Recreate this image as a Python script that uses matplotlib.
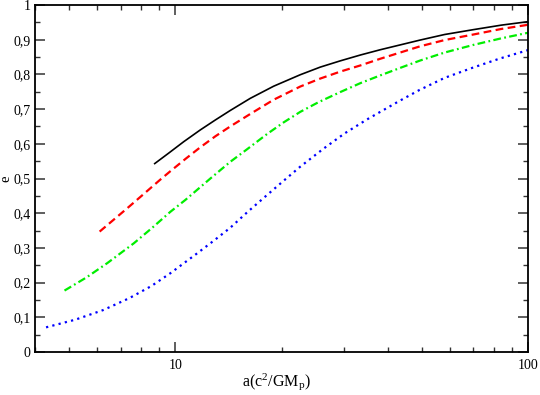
import matplotlib
matplotlib.use('Agg')
import matplotlib.pyplot as plt
from matplotlib.ticker import FixedLocator, FuncFormatter, NullFormatter, MultipleLocator

plt.rcParams['font.family'] = 'Liberation Serif'
plt.rcParams['mathtext.fontset'] = 'custom'
plt.rcParams['mathtext.rm'] = 'Liberation Serif'
plt.rcParams['mathtext.it'] = 'Liberation Serif:italic'
plt.rcParams['mathtext.default'] = 'rm'

# curves (a in units of GM_p/c^2, eccentricity e)
black_a = [8.74, 9.6, 10.56, 11.77, 13.0, 14.31, 16.31, 19.0, 22.60, 25.75, 29.34, 33.5, 38.08, 49.44, 58.0, 69.98, 84.0, 100]
black_e = [0.543, 0.574, 0.606, 0.640, 0.669, 0.696, 0.731, 0.766, 0.799, 0.821, 0.839, 0.856, 0.871, 0.899, 0.915, 0.929, 0.942, 0.952]

red_a = [6.10, 7.30, 7.96, 9.07, 9.68, 10.7, 11.77, 13.0, 14.31, 16.31, 19.0, 22.60, 25.75, 29.34, 33.5, 38.08, 49.44, 58.0, 69.98, 84.0, 100]
red_e = [0.347, 0.414, 0.447, 0.497, 0.521, 0.557, 0.590, 0.622, 0.650, 0.686, 0.727, 0.765, 0.788, 0.808, 0.826, 0.845, 0.881, 0.899, 0.915, 0.931, 0.943]

green_a = [4.85, 5.6, 6.41, 7.62, 8.6, 9.68, 10.67, 12.57, 14.31, 15.96, 18.19, 20.3, 22.60, 25.47, 29.34, 33.5, 38.08, 44.0, 49.44, 58.0, 69.98, 84.0, 100]
green_e = [0.177, 0.215, 0.256, 0.313, 0.358, 0.404, 0.438, 0.500, 0.548, 0.584, 0.628, 0.662, 0.692, 0.720, 0.749, 0.775, 0.797, 0.821, 0.840, 0.863, 0.885, 0.904, 0.920]

blue_a = [4.30, 5.2, 6.25, 7.4, 8.55, 9.68, 11.52, 12.9, 14.31, 16.0, 17.99, 20.2, 22.60, 26.31, 30.2, 34.92, 42.92, 49.20, 58.0, 69.98, 83.33, 100]
blue_e = [0.071, 0.093, 0.121, 0.155, 0.190, 0.227, 0.284, 0.322, 0.358, 0.403, 0.448, 0.492, 0.534, 0.586, 0.630, 0.670, 0.722, 0.755, 0.790, 0.820, 0.846, 0.870]

fig = plt.figure(figsize=(5.4, 3.95), dpi=100)
ax = fig.add_axes([0.0648, 0.1089, 0.913, 0.8784])

ax.plot(black_a, black_e, color='black', lw=1.2)
ax.plot(red_a, red_e, color='#ff0000', lw=1.6, linestyle=(0, (3.5, 2.0)))
ax.plot(green_a, green_e, color='#00ee00', lw=1.6, linestyle=(0, (3.5, 1.5, 0.8, 1.5)))
ax.plot(blue_a, blue_e, color='#0000ff', lw=1.6, linestyle=(0, (1, 1.9)))

ax.set_xscale('log')
ax.set_xlim(4, 100)
ax.set_ylim(0, 1)
ax.xaxis.set_major_locator(FixedLocator([10, 100]))
ax.xaxis.set_minor_locator(FixedLocator([4, 5, 6, 7, 8, 9, 20, 30, 40, 50, 60, 70, 80, 90]))
ax.xaxis.set_major_formatter(FuncFormatter(lambda v, p: '%d' % v))
ax.xaxis.set_minor_formatter(NullFormatter())
ax.yaxis.set_major_locator(MultipleLocator(0.1))
ax.yaxis.set_minor_locator(MultipleLocator(0.05))


def comma(v, p):
    s = ('%.1f' % v).replace('.', ',')
    if s in ('0,0', '1,0'):
        s = s[0]
    return s


ax.yaxis.set_major_formatter(FuncFormatter(comma))

ax.tick_params(which='both', direction='in', top=True, right=True, labelsize=10, color='#333333')
ax.tick_params(which='major', length=7.5, width=1.1, pad=5)
ax.tick_params(axis='y', which='major', pad=3)
ax.tick_params(which='minor', length=3.8, width=1.0)
for s in ax.spines.values():
    s.set_linewidth(1.3)

ax.set_xlabel('a(c$^2$/GM$_p$)', fontsize=11.5)
ax.xaxis.set_label_coords(0.49, -0.055)
ax.set_ylabel('e', fontsize=10.5)
ax.yaxis.set_label_coords(-0.046, 0.5)

fig.savefig('out.png', dpi=100)
